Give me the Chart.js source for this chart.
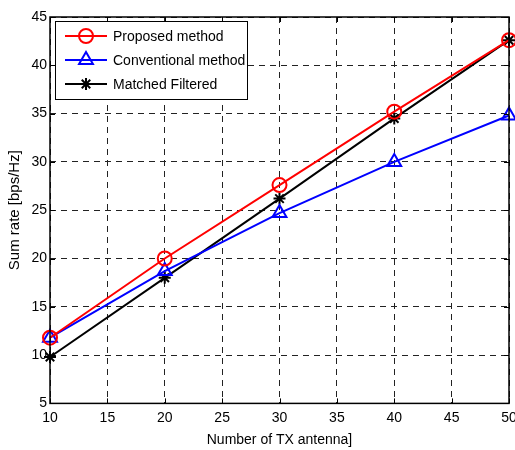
<!DOCTYPE html>
<html><head><meta charset="utf-8">
<script src="https://cdn.jsdelivr.net/npm/chart.js@4/dist/chart.umd.min.js"></script>
<style>html,body{margin:0;padding:0;background:#fff}#wrap{width:515px;height:450px}</style>
</head><body><div id="wrap"><canvas id="c" width="515" height="450"></canvas></div>
<script>
const xValues = [10, 20, 30, 40, 50];
const proposed = [11.8, 20.0, 27.6, 35.2, 42.6];
const conventional = [11.8, 18.7, 24.7, 30.0, 34.8];
const matched = [9.8, 18.0, 26.2, 34.5, 42.6];
const seriesNames = ['Proposed method', 'Conventional method', 'Matched Filtered'];
const xTitle = 'Number of TX antenna]';
const yTitle = 'Sum rate [bps/Hz]';

const FONT = "'Liberation Sans Narrow', 'Arial Narrow', 'Liberation Sans', Arial, sans-serif";
const toPts = arr => arr.map((v, i) => ({x: xValues[i], y: v}));

const boxPlugin = {
  id: 'box',
  afterDraw(chart) {
    const {ctx, chartArea: a, scales} = chart;
    ctx.save();
    ctx.strokeStyle = '#000'; ctx.lineWidth = 1.5; ctx.setLineDash([]);
    ctx.strokeRect(a.left, a.top, a.right - a.left, a.bottom - a.top);
    ctx.lineWidth = 1;
    const tl = 5;
    scales.x.ticks.forEach(t => {
      const px = Math.round(scales.x.getPixelForValue(t.value)) + 0.5;
      ctx.beginPath(); ctx.moveTo(px, a.bottom); ctx.lineTo(px, a.bottom - tl);
      ctx.moveTo(px, a.top); ctx.lineTo(px, a.top + tl); ctx.stroke();
    });
    scales.y.ticks.forEach(t => {
      const py = Math.round(scales.y.getPixelForValue(t.value)) + 0.5;
      ctx.beginPath(); ctx.moveTo(a.left, py); ctx.lineTo(a.left + tl, py);
      ctx.moveTo(a.right, py); ctx.lineTo(a.right - tl, py); ctx.stroke();
    });
    // legend
    const lx = a.left + 5, ly = a.top + 4, lw = 192, lh = 78;
    ctx.fillStyle = '#fff';
    ctx.fillRect(lx, ly, lw, lh);
    ctx.strokeStyle = '#000'; ctx.lineWidth = 1;
    ctx.strokeRect(lx + 0.5, ly + 0.5, lw, lh);
    chart.data.datasets.forEach((ds, i) => {
      const yy = ly + 15 + i * 24;
      ctx.strokeStyle = ds.borderColor; ctx.lineWidth = 2;
      ctx.beginPath(); ctx.moveTo(lx + 10, yy); ctx.lineTo(lx + 52, yy); ctx.stroke();
      ctx.fillStyle = 'rgba(0,0,0,0)';
      Chart.helpers.drawPoint(ctx, {pointStyle: ds.pointStyle, radius: ds.pointRadius, borderWidth: 2, rotation: 0}, lx + 31, yy);
      ctx.fillStyle = '#000';
      ctx.font = '14px ' + FONT;
      ctx.textBaseline = 'middle';
      ctx.fillText(ds.label, lx + 58, yy + 1);
    });
    ctx.restore();
  }
};

new Chart(document.getElementById('c'), {
  type: 'line',
  data: {
    datasets: [
      {label: seriesNames[0], data: toPts(proposed), borderColor: '#ff0000', backgroundColor: 'rgba(0,0,0,0)', pointStyle: 'circle', pointRadius: 7, pointBorderWidth: 2, borderWidth: 2, pointBorderColor: '#ff0000'},
      {label: seriesNames[1], data: toPts(conventional), borderColor: '#0000ff', backgroundColor: 'rgba(0,0,0,0)', pointStyle: 'triangle', pointRadius: 8, pointBorderWidth: 2, borderWidth: 2, pointBorderColor: '#0000ff'},
      {label: seriesNames[2], data: toPts(matched), borderColor: '#000000', backgroundColor: 'rgba(0,0,0,0)', pointStyle: 'star', pointRadius: 6, pointBorderWidth: 2, borderWidth: 2, pointBorderColor: '#000000'}
    ]
  },
  options: {
    responsive: false, animation: false,
    layout: {autoPadding: false, padding: {left: 0, right: 0, top: 17, bottom: 0}},
    plugins: {legend: {display: false}, tooltip: {enabled: false}},
    elements: {line: {tension: 0}},
    clip: false,
    scales: {
      x: {
        type: 'linear', min: 10, max: 50,
        ticks: {stepSize: 5, color: '#000', font: {family: FONT, size: 14}, padding: 6, maxRotation: 0},
        grid: {color: '#222', lineWidth: 1, drawTicks: false},
        border: {display: false, dash: [6, 5]},
        title: {display: true, text: xTitle, color: '#000', font: {family: FONT, size: 14}, padding: {top: 0, bottom: 1}},
        afterFit(s) { s.paddingRight = 6; }
      },
      y: {
        min: 5, max: 45,
        ticks: {stepSize: 5, color: '#000', font: {family: FONT, size: 14}, padding: 3},
        grid: {color: '#222', lineWidth: 1, drawTicks: false},
        border: {display: false, dash: [6, 5]},
        title: {display: true, text: yTitle, color: '#000', font: {family: FONT, size: 15}, padding: {top: 6, bottom: 4}},
        afterFit(s) { s.width = 50; }
      }
    }
  },
  plugins: [boxPlugin]
});
</script></body></html>
